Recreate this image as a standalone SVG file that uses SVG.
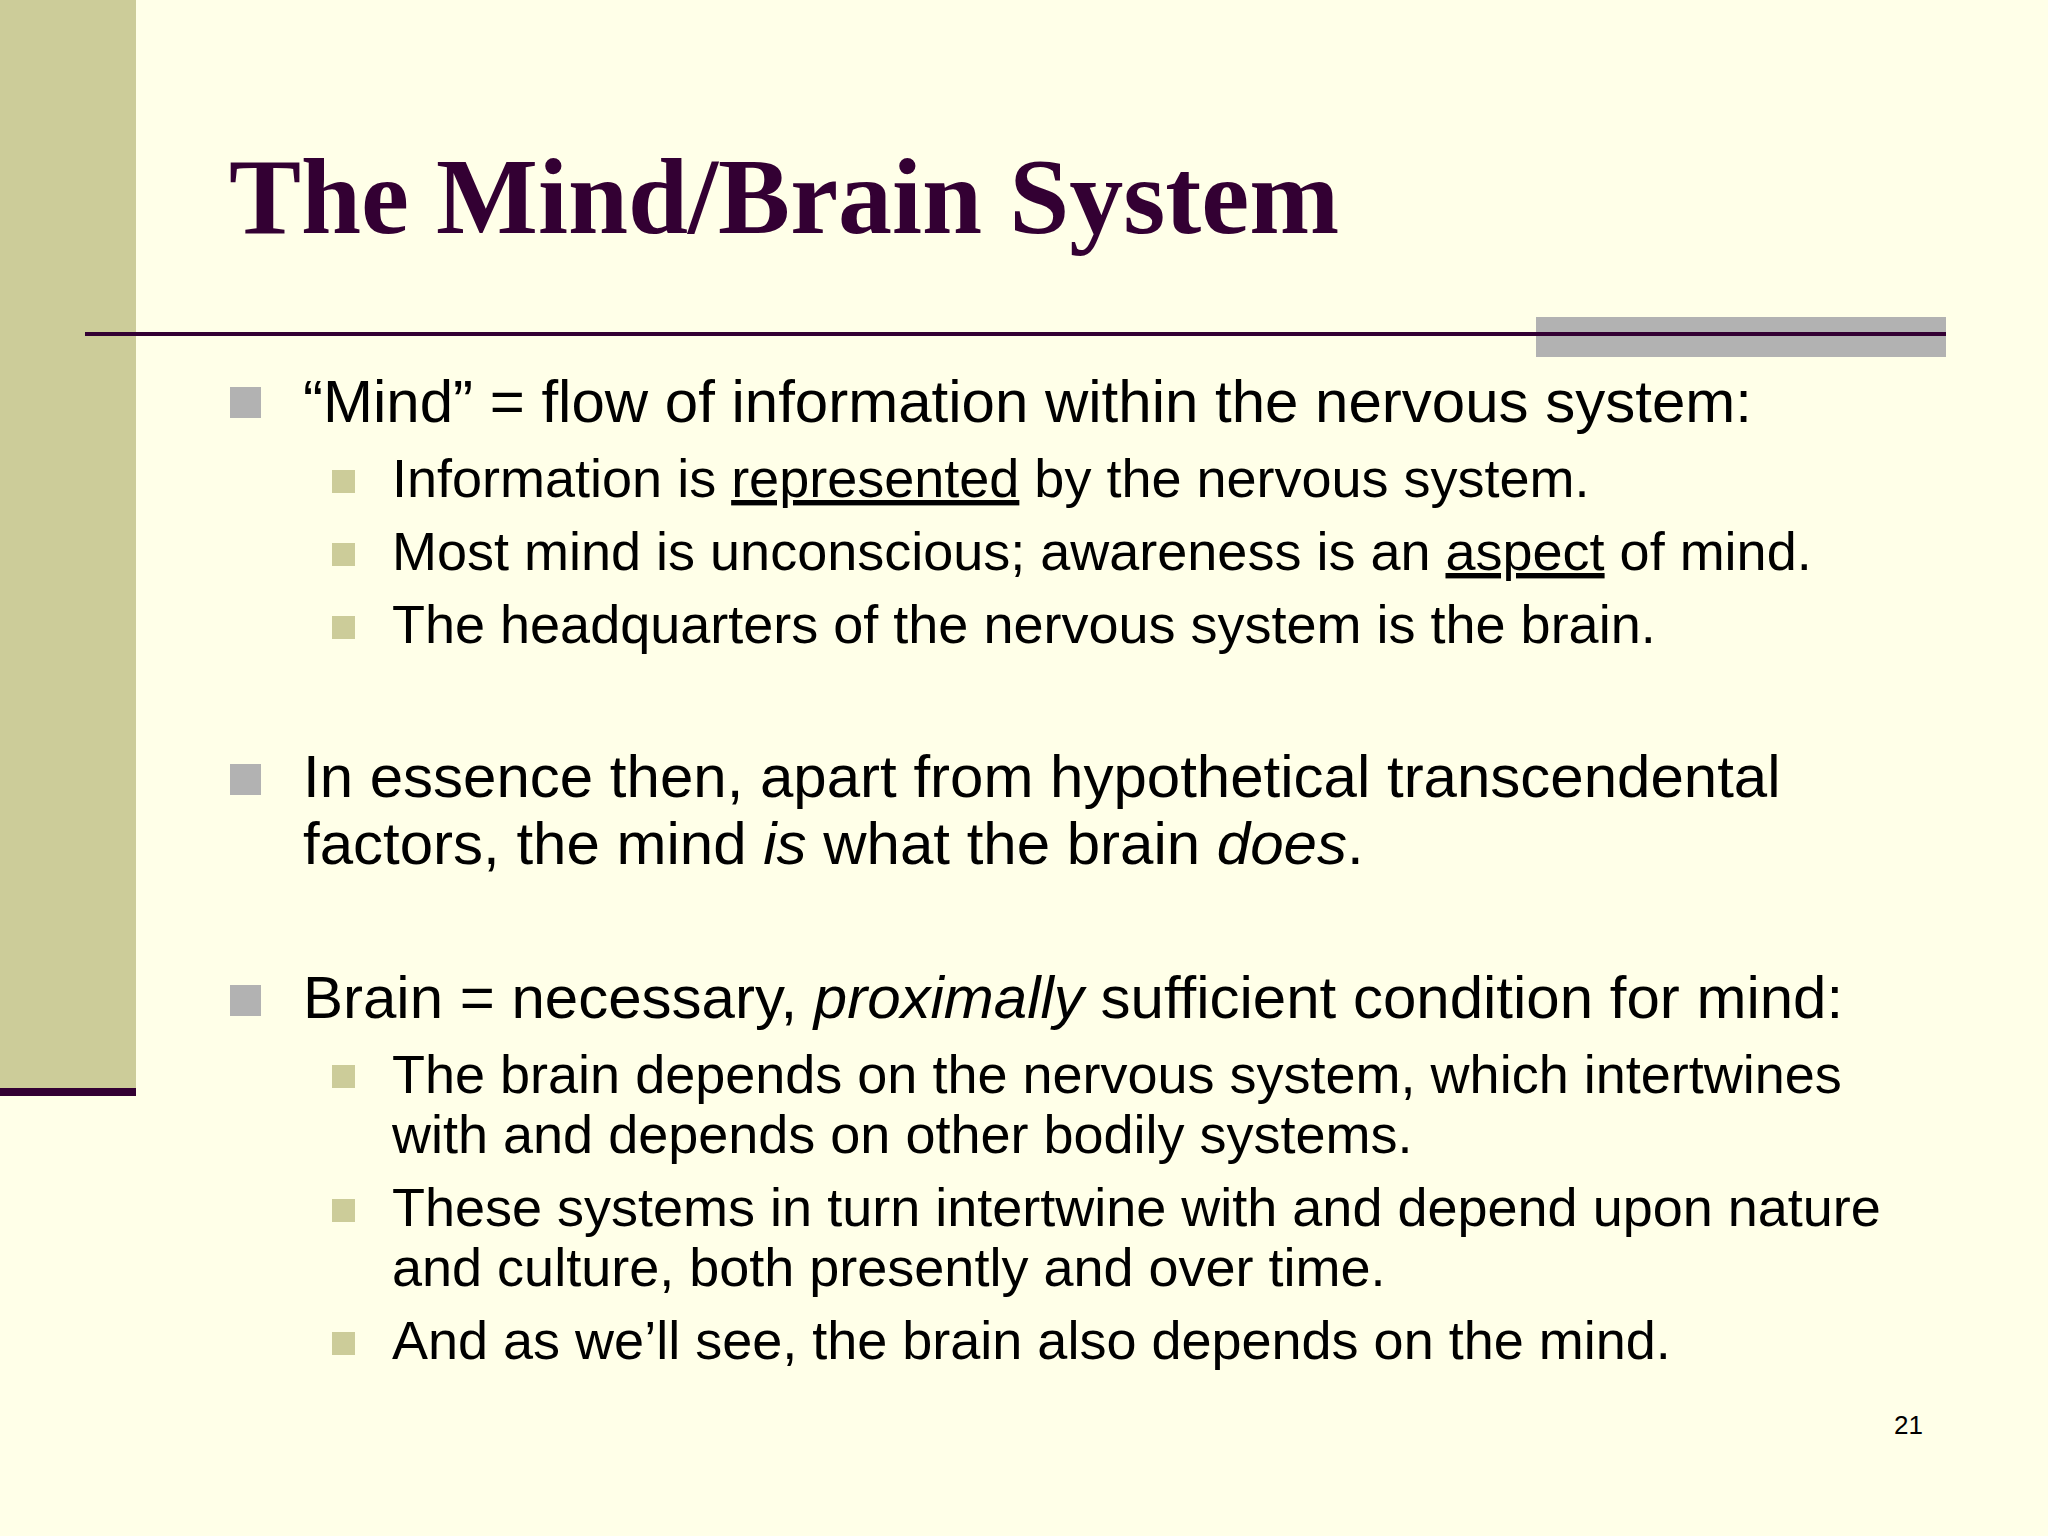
<svg xmlns="http://www.w3.org/2000/svg" width="2048" height="1536" viewBox="0 0 2048 1536">
<style>
.t{font-family:"Liberation Sans",Arial,sans-serif;fill:#000}
.l1{font-size:60px}
.l2{font-size:54px}
.b1{fill:#B2B2B2}
.b2{fill:#CCCC99}
</style>
<rect width="2048" height="1536" fill="#FFFFE8"/>
<rect x="0" y="0" width="136" height="1090" fill="#CCCC99"/>
<rect x="0" y="1088" width="136" height="8" fill="#330033"/>
<text x="229" y="233" font-family="Liberation Serif,serif" font-weight="bold" font-size="108" fill="#330033">The Mind/Brain System</text>
<rect x="1536" y="317" width="410" height="40" fill="#B2B2B2"/>
<rect x="85" y="332" width="1861" height="4" fill="#330033"/>
<g id="bullets">
<rect class="b1" x="230" y="387" width="31" height="31"/>
<rect class="b2" x="332" y="470" width="23" height="23"/>
<rect class="b2" x="332" y="543" width="23" height="23"/>
<rect class="b2" x="332" y="616" width="23" height="23"/>
<rect class="b1" x="230" y="764" width="31" height="31"/>
<rect class="b1" x="230" y="985" width="31" height="31"/>
<rect class="b2" x="332" y="1065" width="23" height="23"/>
<rect class="b2" x="332" y="1199" width="23" height="23"/>
<rect class="b2" x="332" y="1332" width="23" height="23"/>
</g>
<g id="text">
<text class="t l1" x="303" y="422">“Mind” = flow of information within the nervous system:</text>
<text class="t l2" x="392" y="497">Information is <tspan text-decoration="underline">represented</tspan> by the nervous system.</text>
<text class="t l2" x="392" y="570">Most mind is unconscious; awareness is an <tspan text-decoration="underline">aspect</tspan> of mind.</text>
<text class="t l2" x="392" y="643">The headquarters of the nervous system is the brain.</text>
<text class="t l1" x="303" y="797">In essence then, apart from hypothetical transcendental</text>
<text class="t l1" x="303" y="864">factors, the mind <tspan font-style="italic">is</tspan> what the brain <tspan font-style="italic">does</tspan>.</text>
<text class="t l1" x="303" y="1018">Brain = necessary, <tspan font-style="italic">proximally</tspan> sufficient condition for mind:</text>
<text class="t l2" x="392" y="1093">The brain depends on the nervous system, which intertwines</text>
<text class="t l2" x="392" y="1153">with and depends on other bodily systems.</text>
<text class="t l2" x="392" y="1226">These systems in turn intertwine with and depend upon nature</text>
<text class="t l2" x="392" y="1286">and culture, both presently and over time.</text>
<text class="t l2" x="392" y="1359">And as we’ll see, the brain also depends on the mind.</text>
<text class="t" x="1894" y="1434" font-size="26">21</text>
</g>
</svg>
